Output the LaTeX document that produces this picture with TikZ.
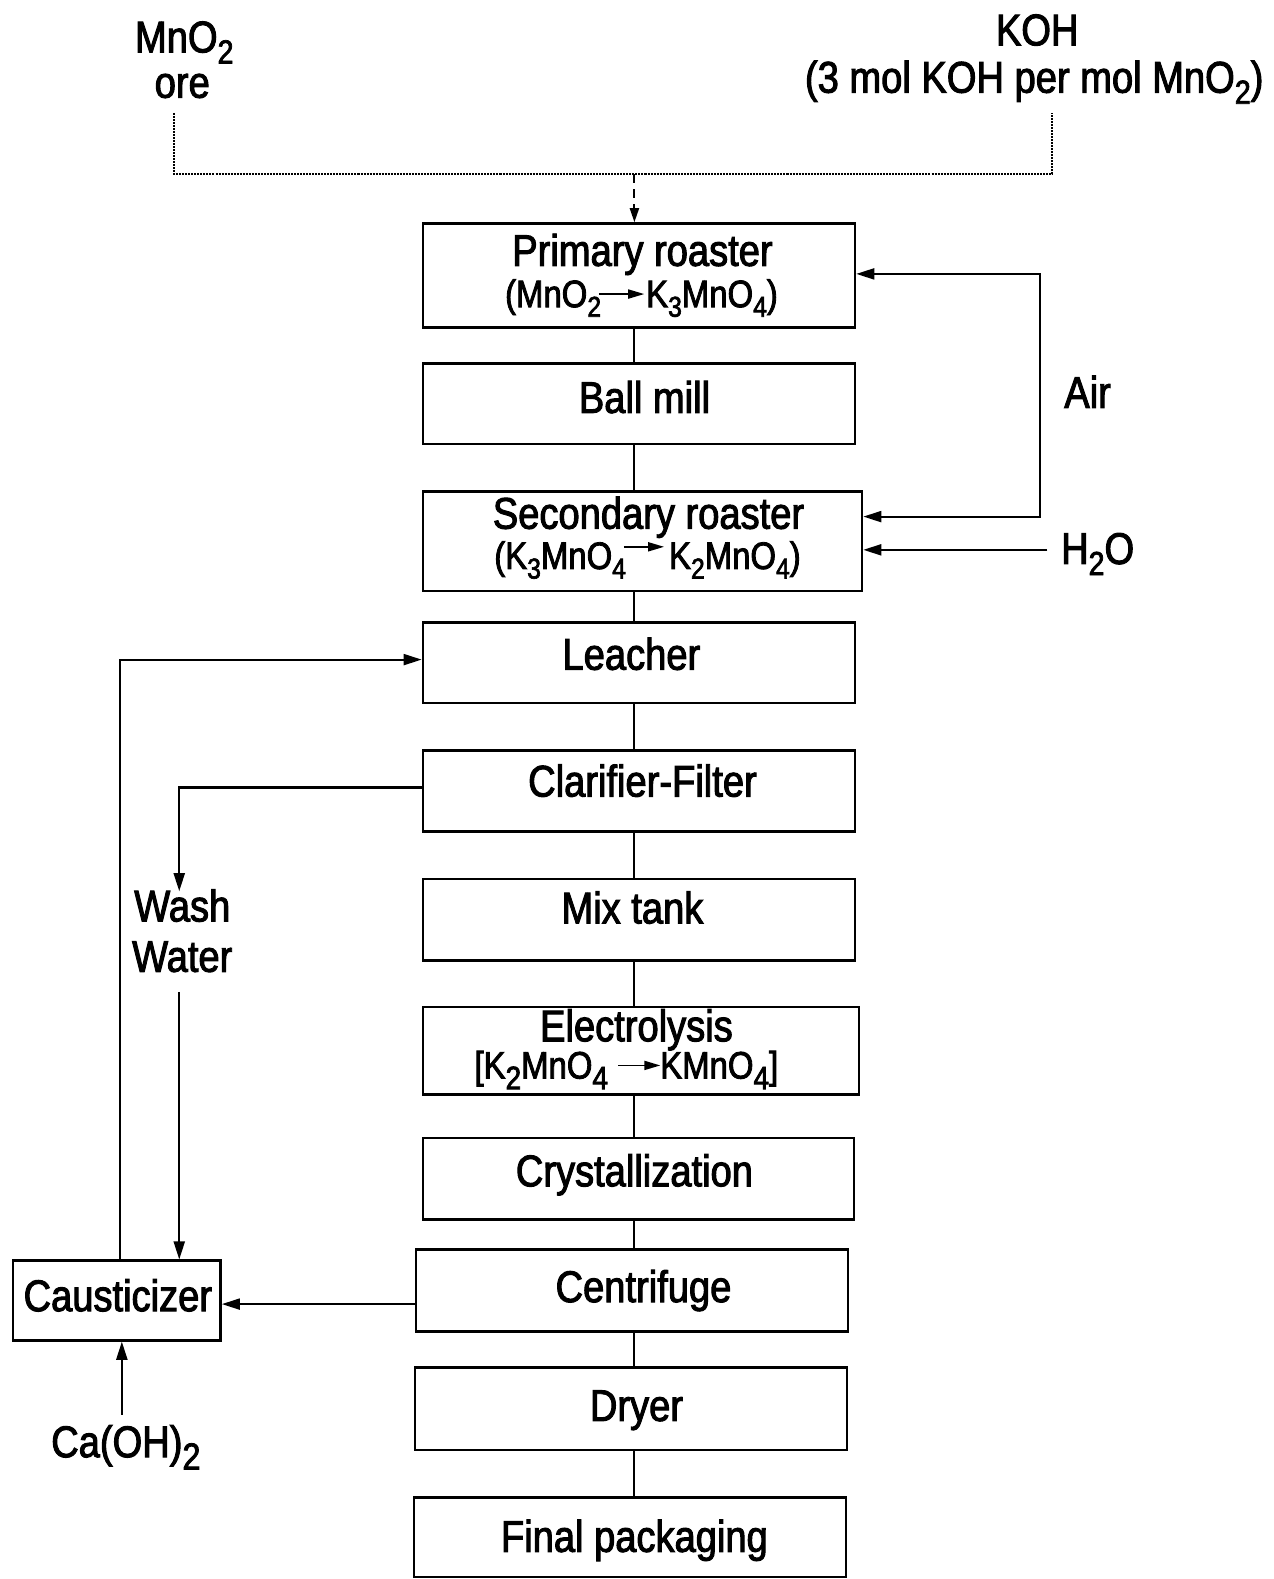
\documentclass[tikz,border=0pt]{standalone}
\usepackage{fontspec}
\setmainfont{Liberation Sans}[FakeStretch=0.86,FakeBold=2.2]
\usetikzlibrary{arrows.meta,calc}
\makeatletter
\newcommand\sbs[1]{\raisebox{-0.25em}{\fontsize{\fpeval{0.75*\f@size}}{1}\selectfont #1}}
\newcommand\sbl[1]{\raisebox{-0.28em}{\fontsize{\fpeval{0.85*\f@size}}{1}\selectfont #1}}
\makeatother
\newcommand\inarr[2]{\tikz[baseline=#1]\draw[line width=1.8pt,-{Triangle[length=16pt,width=9pt]}] (0,0)--(#2,0);}
\tikzset{
  box/.style={draw, line width=2.6pt, inner sep=0pt},
  big/.style={font=\fontsize{44}{48}\selectfont, inner sep=0pt, anchor=base},
  med/.style={font=\fontsize{38}{42}\selectfont, inner sep=0pt, anchor=base},
  conn/.style={line width=2pt},
  arr/.style={line width=2pt, -{Triangle[length=18pt,width=11pt]}},
}
\newcommand\pbox[5]{\node[box, minimum width=#4pt-#2pt, minimum height=#5pt-#3pt] (#1) at ({(#2+#4)/2},{(#3+#5)/2}) {};}
\begin{document}
\begin{tikzpicture}[x=1pt,y=-1pt]
\useasboundingbox (0,0) rectangle (1265,1568);
% process boxes
\pbox{pr}{420}{222}{849}{325}
\pbox{bm}{420}{361}{849}{441}
\pbox{sr}{420}{488}{856}{587}
\pbox{le}{420}{618}{849}{698}
\pbox{cf}{420}{745}{849}{826}
\pbox{mt}{420}{873}{849}{954}
\pbox{el}{420}{1000}{853}{1087}
\pbox{cr}{420}{1130}{848}{1211}
\pbox{ce}{413}{1241}{842}{1322}
\pbox{dr}{412}{1358}{841}{1440}
\pbox{fp}{411}{1487}{840}{1566}
\pbox{ca}{13}{1252}{219}{1331}
% texts
\node[big] (t1) at (183,52) {MnO\sbs{2}};
\node[big] (t2) at (181,97) {ore};
\node[big] (t3) at (1030,45) {KOH};
\node[big] (t4) at (1027,92) {(3 mol KOH per mol MnO\sbs{2})};
\node[big] (prt) at (638,264) {Primary roaster};
\node[med] (prs) at (637,305) {(MnO\sbs{2}\kern-3pt\inarr{-13pt}{45pt}\kern1pt K\sbs{3}MnO\sbs{4})};
\node[big] (bmt) at (640,410) {Ball mill};
\node[big] (srt) at (644,525) {Secondary roaster};
\node[med] (srs) at (643,565) {(K\sbs{3}MnO\sbs{4}\kern-3pt\inarr{-22pt}{40pt}\kern4pt K\sbs{2}MnO\sbs{4})};
\node[big] (air) at (1080,405) {Air};
\node[big] (h2o) at (1090,560) {H\sbs{2}O};
\node[big] (let) at (627,665) {Leacher};
\node[big] (cft) at (638,791) {Clarifier-Filter};
\node[big] (mtt) at (628,917) {Mix tank};
\node[big] (elt) at (632,1034) {Electrolysis};
\node[med] (els) at (622,1071) {[K\sbl{2}MnO\sbl{4} \inarr{-13pt}{42pt}\kern-1pt KMnO\sbl{4}]};
\node[big] (crt) at (630,1178) {Crystallization};
\node[big] (cet) at (639,1293) {Centrifuge};
\node[big] (drt) at (632,1411) {Dryer};
\node[big] (fpt) at (630,1541) {Final packaging};
\node[big] (w1) at (181,915) {Wash};
\node[big] (w2) at (181,965) {Water};
\node[big] (cat) at (117,1302) {Causticizer};
\node[big] (caoh) at (125,1447) {Ca(OH)\sbl{2}};
% coordinates
\coordinate (vx) at (630,0);
\coordinate (dL) at (173,112);
\coordinate (dR) at (1045,112);
\coordinate (jR) at (1045,173);
\coordinate (jM) at (630,173);
\coordinate (airT) at (1033,272);
\coordinate (airB) at (1033,513);
\coordinate (hw) at (1040,546);
\coordinate (lk) at (119,655);
\coordinate (cw) at (178,782);
\coordinate (ww1) at (178,885);
\coordinate (ww2) at (178,985);
\coordinate (cc) at (0,1295);
\coordinate (cb) at (121,1405);
% feed lines
\draw[line width=2pt, densely dotted] (dL) |- (jR) -- (dR);
\draw[line width=2pt, dash pattern=on 9pt off 6pt, -{Triangle[length=14pt,width=9pt]}] (jM) -- (pr.north -| jM);
% main column
\foreach \a/\b in {pr/bm,bm/sr,sr/le,le/cf,cf/mt,mt/el,el/cr,cr/ce,ce/dr,dr/fp}
  \draw[conn] (\a.south -| vx) -- (\b.north -| vx);
% air
\draw[line width=2pt, {Triangle[length=18pt,width=11pt]}-{Triangle[length=18pt,width=11pt]}] (pr.east |- airT) -- (airT) -- (airB) -- (sr.east |- airB);
% water
\draw[arr] (hw) -- (sr.east |- hw);
% recycle
\draw[arr] (ca.north -| lk) |- (le.west |- lk);
\draw[arr] (cf.west |- cw) -| (ww1);
\draw[arr] (ww2) -- (ca.north -| ww2);
\draw[arr] (ce.west |- cc) -- (ca.east |- cc);
\draw[arr] (cb) -- (ca.south -| cb);
\end{tikzpicture}
\end{document}
